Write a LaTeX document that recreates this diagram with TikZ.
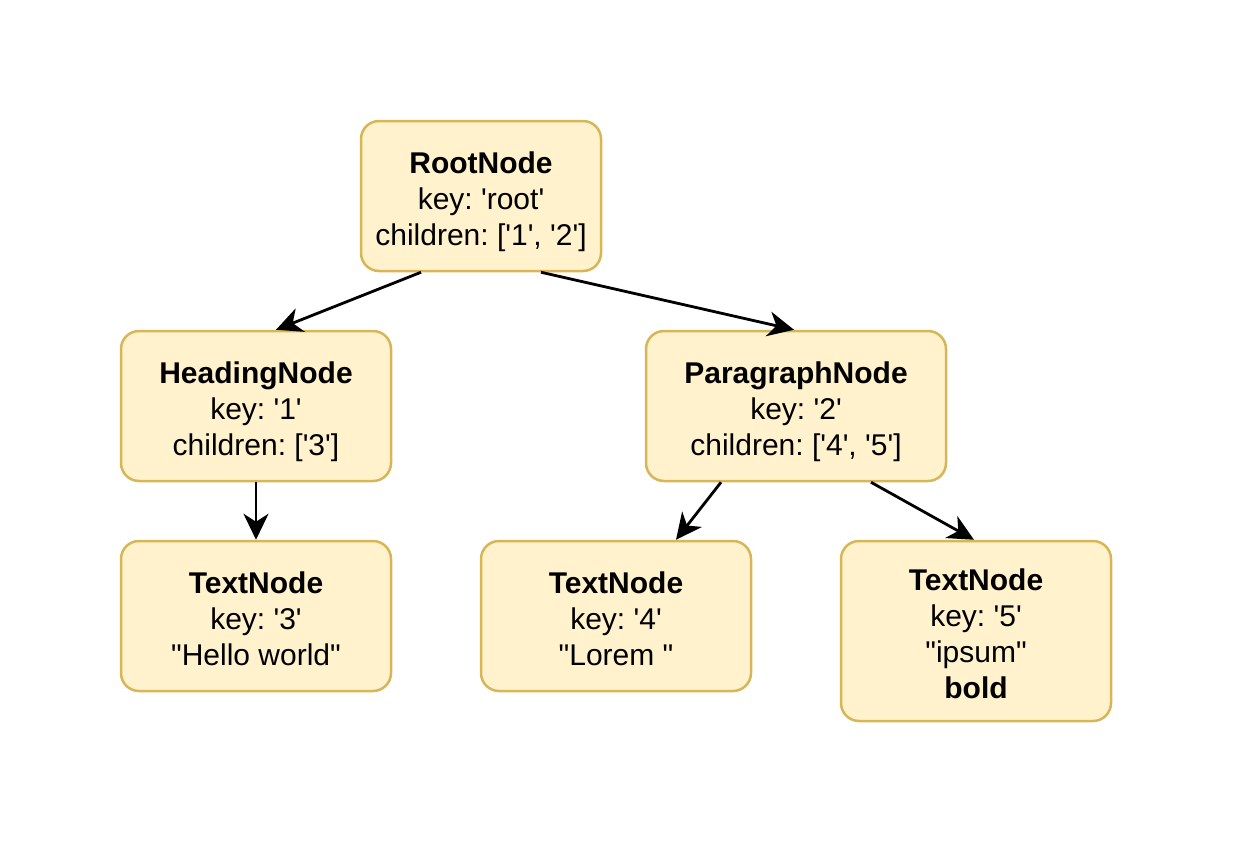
\documentclass[tikz,border=0pt]{standalone}
\usepackage{fontspec}
\setmainfont{Liberation Sans}[Ligatures=TeXOff]
\usetikzlibrary{arrows.meta}
\definecolor{boxfill}{HTML}{FFF2CC}
\definecolor{boxdraw}{HTML}{D6B656}
\newcommand{\boxtext}[1]{\raisebox{-6pt}[\height][\depth]{\begin{tabular}{@{}c@{}}#1\end{tabular}}}
\begin{document}
\begin{tikzpicture}[x=1pt,y=-1pt,
  treebox/.style={draw=boxdraw, fill=boxfill, line width=2.5pt, rounded corners=18pt,
    inner sep=0pt, font=\fontsize{30}{36}\selectfont\frenchspacing},
  link/.style={line width=2.8pt, -{Stealth[length=26pt,width=25pt,inset=8pt]}}]
\useasboundingbox (0,0) rectangle (1233,846);
\node[treebox, minimum width=240pt, minimum height=150pt] (root) at (481,196)
  {\boxtext{\textbf{RootNode}\\key: 'root'\\children: ['1', '2']}};
\node[treebox, minimum width=270pt, minimum height=150pt] (head) at (256,406)
  {\boxtext{\textbf{HeadingNode}\\key: '1'\\children: ['3']}};
\node[treebox, minimum width=300pt, minimum height=150pt] (para) at (796,406)
  {\boxtext{\textbf{ParagraphNode}\\key: '2'\\children: ['4', '5']}};
\node[treebox, minimum width=270pt, minimum height=150pt] (t3) at (256,616)
  {\boxtext{\textbf{TextNode}\\key: '3'\\"Hello world"}};
\node[treebox, minimum width=270pt, minimum height=150pt] (t4) at (616,616)
  {\boxtext{\textbf{TextNode}\\key: '4'\\"Lorem "}};
\node[treebox, minimum width=270pt, minimum height=180pt] (t5) at (976,631)
  {\boxtext{\textbf{TextNode}\\key: '5'\\"ipsum"\\\textbf{bold}}};
\draw[link] ([xshift=-60pt]root.south) -- ([xshift=20pt]head.north);
\draw[link] ([xshift=60pt]root.south) -- ([xshift=-2pt]para.north);
\draw[link] (head.south) -- (t3.north);
\draw[link] ([xshift=-75pt]para.south) -- ([xshift=60pt]t4.north);
\draw[link] ([xshift=75pt]para.south) -- ([xshift=-2pt]t5.north);
\end{tikzpicture}
\end{document}
